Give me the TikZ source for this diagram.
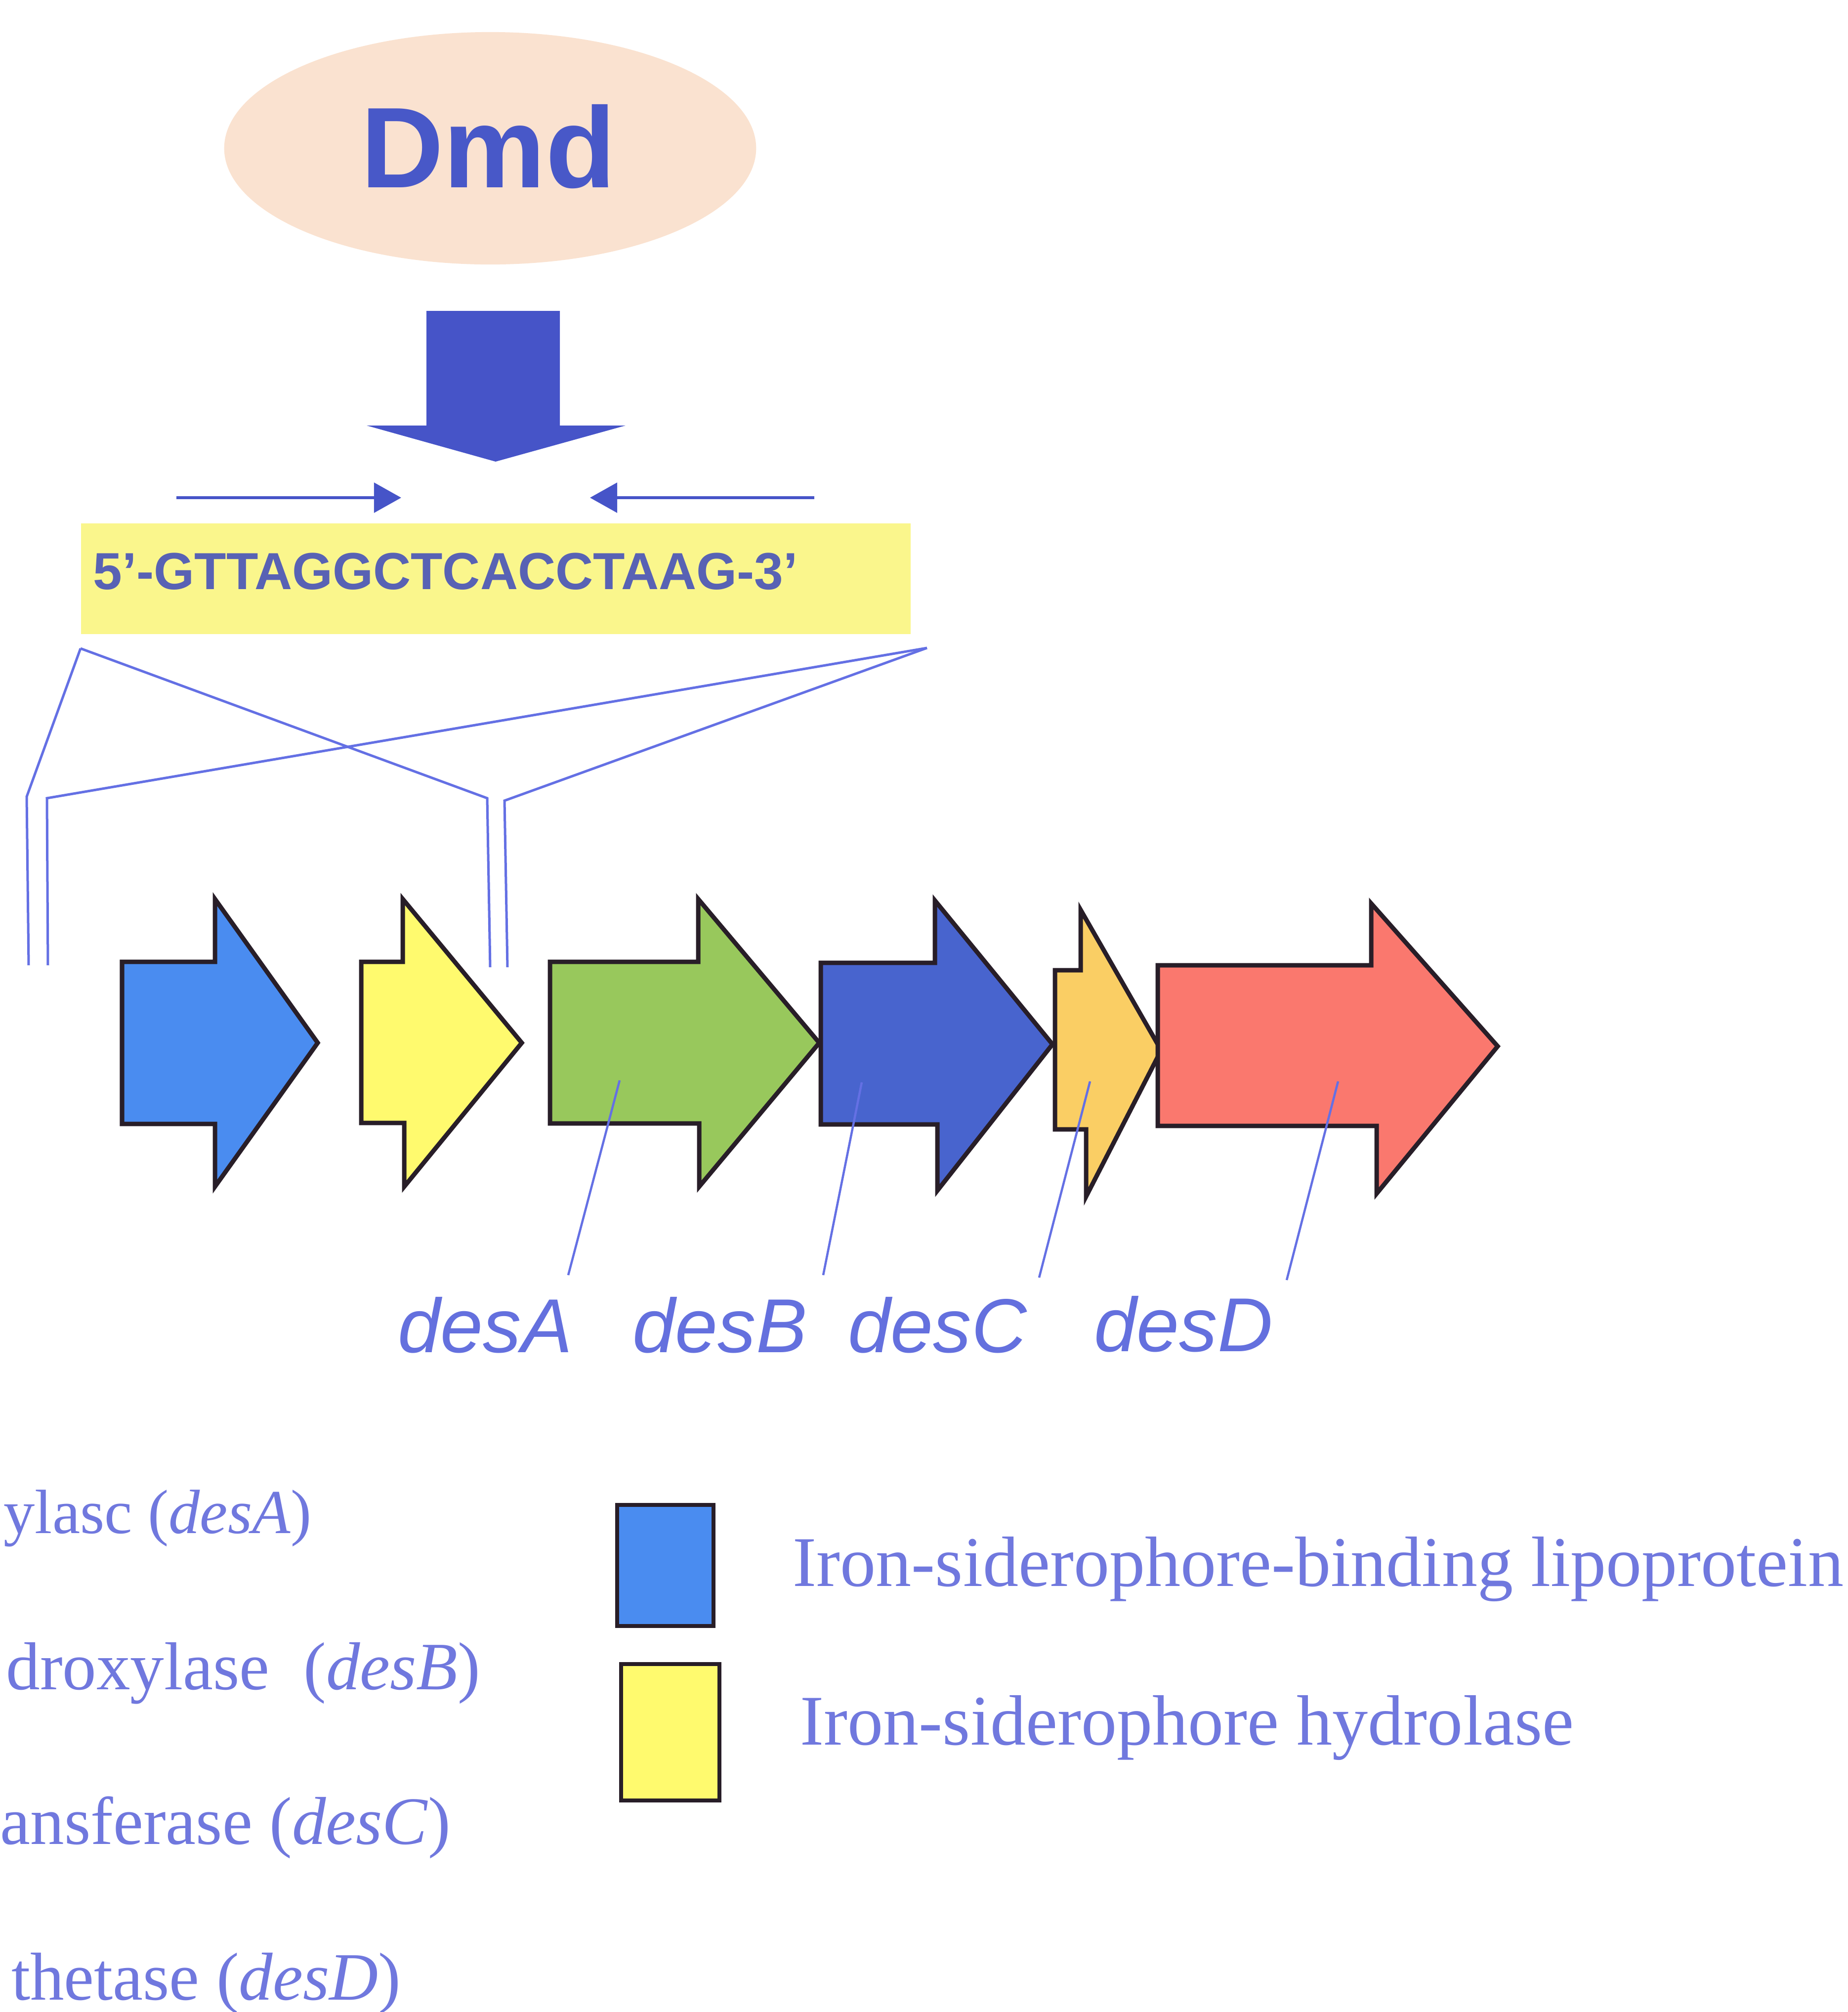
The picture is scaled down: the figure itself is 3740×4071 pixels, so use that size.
\documentclass[tikz,border=0pt]{standalone}
\usepackage{fontspec}
\setmainfont{Liberation Serif}
\setsansfont{Liberation Sans}
\usetikzlibrary{arrows.meta,shapes.geometric}
\definecolor{peach}{RGB}{250,226,208}
\definecolor{dmdblue}{RGB}{72,88,200}
\definecolor{arrowblue}{RGB}{70,84,200}
\definecolor{yellowbox}{RGB}{250,246,140}
\definecolor{seqtext}{RGB}{88,98,180}
\definecolor{linkblue}{RGB}{100,112,228}
\definecolor{gblueA}{RGB}{74,140,240}
\definecolor{gyellow}{RGB}{255,250,110}
\definecolor{ggreen}{RGB}{152,200,92}
\definecolor{gblueB}{RGB}{72,100,206}
\definecolor{gorange}{RGB}{250,206,100}
\definecolor{gred}{RGB}{250,120,110}
\definecolor{outline}{RGB}{40,30,40}
\definecolor{labelblue}{RGB}{100,112,222}
\definecolor{legendtext}{RGB}{112,120,222}
\tikzset{
  gene/.style={draw=outline, line width=0.09cm, line join=miter},
  conn/.style={draw=linkblue, line width=0.05cm},
  lbl/.style={draw=linkblue, line width=0.045cm},
  smallarrow/.style={draw=arrowblue, line width=0.06cm, -{Triangle[length=0.55cm,width=0.6cm]}},
  genelabel/.style={inner sep=0, anchor=base west, text=labelblue, font=\sffamily\itshape\fontsize{44}{48}\selectfont},
  legleft/.style={inner sep=0, anchor=base east, text=legendtext, font=\fontsize{39}{42}\selectfont},
  legright/.style={inner sep=0, anchor=base west, text=legendtext, font=\fontsize{41}{44}\selectfont},
  legbox/.style={draw=outline, line width=0.08cm},
}
\begin{document}
\begin{tikzpicture}[x=0.01cm,y=-0.01cm]
\useasboundingbox (0,0) rectangle (3740,4071);

% Dmd ellipse
\node[ellipse, fill=peach, minimum width=10.76cm, minimum height=4.70cm, inner sep=0] (dmd) at (992,300) {};
\node[inner sep=0, anchor=base, text=dmdblue, font=\sffamily\bfseries\fontsize{66}{70}\selectfont] (dmdtext) at (988,379) {Dmd};

% big down arrow
\fill[arrowblue] (863,629) -- (1133,629) -- (1133,861) -- (1266,861) -- (1003,934) -- (742,861) -- (863,861) -- cycle;

% small converging arrows
\coordinate (saL0) at (357,1007);
\coordinate (saL1) at (812,1007);
\coordinate (saR0) at (1648,1007);
\coordinate (saR1) at (1194,1007);
\draw[smallarrow] (saL0) -- (saL1);
\draw[smallarrow] (saR0) -- (saR1);

% yellow sequence box
\node[fill=yellowbox, inner sep=0, minimum width=16.78cm, minimum height=2.24cm] (seqbox) at (1003,1171) {};
\node[inner sep=0, anchor=base west, text=seqtext, font=\sffamily\bfseries\fontsize{30}{32}\selectfont] (seq) at (188,1192) {5'-GTTAGGCTCACCTAAG-3'};

% connectors from box to gene region
\coordinate (apL) at (163,1312);
\coordinate (apR) at (1876,1311);
\coordinate (eL1) at (58,1953);
\coordinate (eL2) at (97,1953);
\coordinate (eM1) at (992,1957);
\coordinate (eM2) at (1027,1957);
\draw[conn] (apL) -- (54,1612) -- (eL1);
\draw[conn] (apL) -- (986,1615) -- (eM1);
\draw[conn] (apR) -- (95,1615) -- (eL2);
\draw[conn] (apR) -- (1021,1620) -- (eM2);

% gene arrows
\filldraw[gene, fill=gblueA] (247,1946) -- (435,1946) -- (435,1819) -- (643,2110) -- (435,2401) -- (435,2274) -- (247,2274) -- cycle;
\filldraw[gene, fill=gyellow] (731,1946) -- (815,1946) -- (815,1819) -- (1056,2110) -- (818,2401) -- (818,2272) -- (731,2272) -- cycle;
\filldraw[gene, fill=ggreen] (1113,1946) -- (1413,1946) -- (1413,1819) -- (1658,2110) -- (1415,2401) -- (1415,2273) -- (1113,2273) -- cycle;
\filldraw[gene, fill=gblueB] (1661,1948) -- (1892,1948) -- (1892,1822) -- (2130,2113) -- (1897,2409) -- (1897,2275) -- (1661,2275) -- cycle;
\filldraw[gene, fill=gorange] (2135,1963) -- (2187,1963) -- (2187,1841) -- (2350,2125) -- (2198,2421) -- (2198,2285) -- (2135,2285) -- cycle;
\filldraw[gene, fill=gred] (2343,1953) -- (2775,1953) -- (2775,1828) -- (3031,2117) -- (2786,2415) -- (2786,2278) -- (2343,2278) -- cycle;

% gene labels
\node[genelabel] (lA) at (805,2736) {desA};
\node[genelabel] (lB) at (1280,2736) {desB};
\node[genelabel] (lC) at (1716,2736) {desC};
\node[genelabel] (lD) at (2214,2734) {desD};
\coordinate (pA) at (1254,2186);
\coordinate (qA) at (1150,2580);
\coordinate (pB) at (1744,2190);
\coordinate (qB) at (1666,2580);
\coordinate (pC) at (2206,2188);
\coordinate (qC) at (2103,2585);
\coordinate (pD) at (2708,2188);
\coordinate (qD) at (2604,2590);
\draw[lbl] (pA) -- (qA);
\draw[lbl] (pB) -- (qB);
\draw[lbl] (pC) -- (qC);
\draw[lbl] (pD) -- (qD);

% legend left (cut-off text)
\node[legleft, font=\fontsize{36}{40}\selectfont] (t1) at (631,3102) {ylasc (\textit{desA})};
\node[legleft] (t2) at (973,3418) {droxylase\ \ (\textit{desB})};
\node[legleft] (t3) at (913,3731) {ansferase (\textit{desC})};
\node[legleft] (t4) at (812,4046) {thetase (\textit{desD})};

% legend boxes
\filldraw[legbox, fill=gblueA] (1249,3045) rectangle (1444,3290);
\filldraw[legbox, fill=gyellow] (1257,3367) rectangle (1456,3643);
\node[legright] (r1) at (1604,3209) {Iron-siderophore-binding lipoprotein};
\node[legright] (r2) at (1619,3530) {Iron-siderophore hydrolase};
\end{tikzpicture}
\end{document}
